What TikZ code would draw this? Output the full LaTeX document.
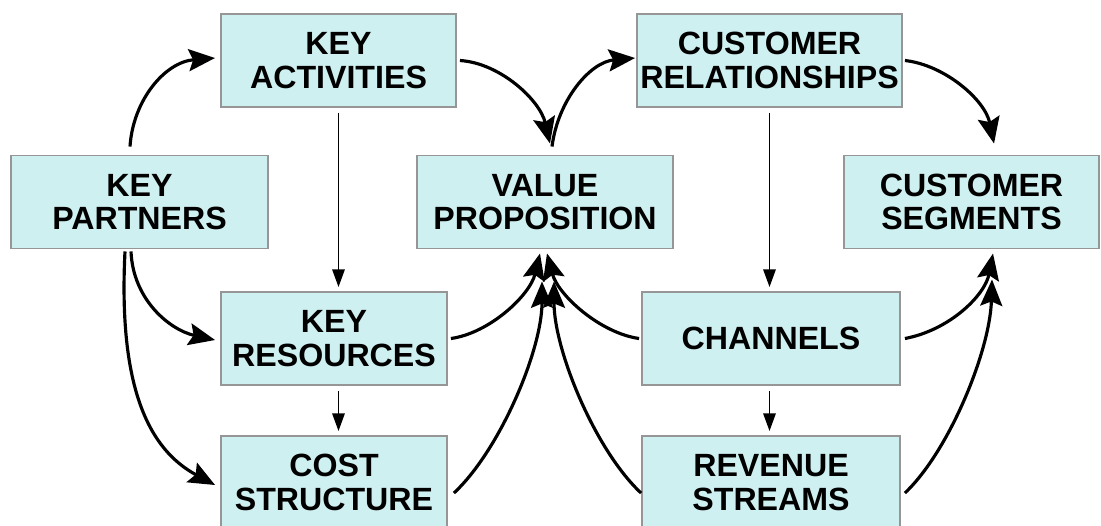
\documentclass[tikz,border=0pt]{standalone}
\usepackage{fontspec}
\setmainfont{Liberation Sans}
\usetikzlibrary{arrows.meta,calc}
\definecolor{boxfill}{RGB}{207,240,240}
\definecolor{boxline}{RGB}{150,150,150}
\tikzset{
  block/.style={draw=boxline, fill=boxfill, line width=1.1pt, inner sep=0pt,
    minimum height=1.86cm, align=center,
    font=\fontsize{18.3}{19}\selectfont\bfseries},
  bigarrow/.style={line width=1.8pt, -{Stealth[length=15pt,width=12.5pt,inset=2.5pt]}},
  thinarrow/.style={line width=1.1pt, -{Triangle[length=10pt,width=7pt]},
    shorten <=0.1cm, shorten >=0.08cm}
}
\begin{document}
\begin{tikzpicture}[x=0.02cm,y=-0.02cm]
\useasboundingbox (0,0) rectangle (1101,525);
\clip (0,0) rectangle (1101,525);
% boxes
\node[block, minimum width=4.7cm]  (ka)  at (338.5,60.5) {KEY\\ACTIVITIES};
\node[block, minimum width=5.14cm] (kp)  at (139.5,202) {KEY\\PARTNERS};
\node[block, minimum width=5.12cm] (vp)  at (545,202) {VALUE\\PROPOSITION};
\node[block, minimum width=5.3cm]  (cr)  at (769.5,60.5) {CUSTOMER\\RELATIONSHIPS};
\node[block, minimum width=5.1cm]  (cs)  at (971.5,202) {CUSTOMER\\SEGMENTS};
\node[block, minimum width=4.52cm] (kr)  at (334,338.5) {KEY\\RESOURCES};
\node[block, minimum width=4.52cm] (cst) at (334,482.5) {COST\\STRUCTURE};
\node[block, minimum width=5.16cm] (ch)  at (771,338.5) {CHANNELS};
\node[block, minimum width=5.16cm] (rs)  at (771,482.5) {REVENUE\\STREAMS};
% straight arrows
\draw[thinarrow] (ka.south) -- (ka.south |- kr.north);
\draw[thinarrow] (ka.south |- kr.south) -- (ka.south |- cst.north);
\draw[thinarrow] (cr.south) -- (cr.south |- ch.north);
\draw[thinarrow] (cr.south |- ch.south) -- (cr.south |- rs.north);
% curved arrows, top row
\draw[bigarrow] ($(kp.north)+(-9.5,-8)$) .. controls (133,100) and (165,62) .. ($(ka.west)+(-5,-2.5)$);
\draw[bigarrow] ($(ka.east)+(3,0)$) .. controls (500,63) and (540,100) .. ($(vp.north)+(5,-11)$);
\draw[bigarrow] ($(vp.north)+(7,-8)$) .. controls (558,100) and (590,62) .. ($(cr.west)+(-1,-2.5)$);
\draw[bigarrow] ($(cr.east)+(2,0)$) .. controls (945,65) and (985,100) .. ($(cs.north)+(22.5,-11)$);
% from key partners
\draw[bigarrow] ($(kp.south)+(-8.5,2)$) .. controls (133,300) and (170,330) .. ($(kr.west)+(-5,1.5)$);
\draw[bigarrow] ($(kp.south)+(-14.5,2)$) .. controls (118,390) and (150,450) .. ($(cst.west)+(-5,2.5)$);
% into value proposition
\draw[bigarrow] ($(kr.east)+(3,0)$) .. controls (490,333) and (530,295) .. ($(vp.south)+(-5,4)$);
\draw[bigarrow] ($(cst.east)+(6,10.5)$) .. controls (500,450) and (542,350) .. ($(vp.south)+(-3,32)$);
\draw[bigarrow] ($(ch.west)+(-2,0)$) .. controls (600,333) and (558,295) .. ($(vp.south)+(2,4)$);
\draw[bigarrow] ($(rs.west)+(0,10.5)$) .. controls (595,450) and (554,350) .. ($(vp.south)+(9,32)$);
% into customer segments
\draw[bigarrow] ($(ch.east)+(4,0)$) .. controls (950,330) and (985,295) .. ($(cs.south)+(21.5,4)$);
\draw[bigarrow] ($(rs.east)+(4,10.5)$) .. controls (950,450) and (990,350) .. ($(cs.south)+(20.5,30)$);
\end{tikzpicture}
\end{document}
